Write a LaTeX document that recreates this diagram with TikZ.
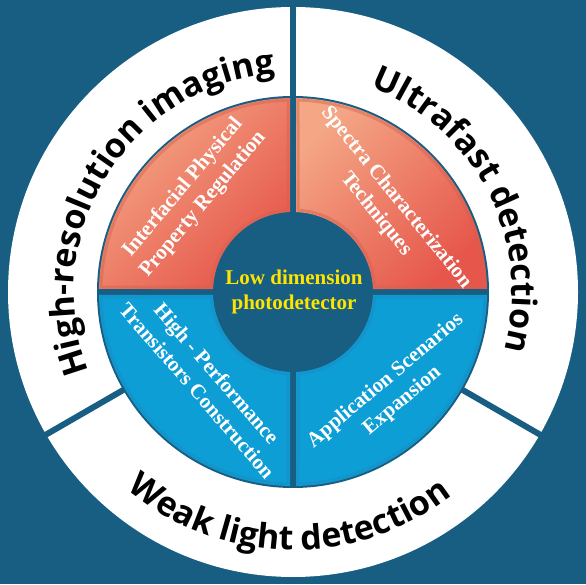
\documentclass[tikz,border=0pt]{standalone}
\usepackage{fontspec}
\setmainfont{Liberation Serif}
\newfontfamily\ringfont{Open Sans}
\usetikzlibrary{decorations.text,calc}
\definecolor{deepteal}{HTML}{175E82}
\definecolor{salmonlight}{HTML}{F4A685}
\definecolor{salmondark}{HTML}{E6564B}
\definecolor{redrim}{HTML}{D4604E}
\definecolor{skyblue}{HTML}{0E9ED6}
\definecolor{bluerim}{HTML}{1A88BE}
\definecolor{hubyellow}{HTML}{FFE400}

\begin{document}
\begin{tikzpicture}[
  x=1pt, y=1pt,
  quadlabel/.style={text=white, align=center, font=\bfseries\fontsize{21}{26}\selectfont},
  hublabel/.style={text=hubyellow, align=center, font=\bfseries\fontsize{21}{25}\selectfont},
  gapline/.style={draw=deepteal, line width=6pt},
  redquad/.style={top color=salmonlight, bottom color=salmondark, shading angle=45},
  bluequad/.style={fill=skyblue}
]
  \useasboundingbox (0,0) rectangle (586,584);
  \fill[deepteal] (0,0) rectangle (586,584);
  \coordinate (C) at (293,292);

  \begin{scope}[shift={(C)}]
    % outer white ring with three gaps
    \fill[white] (0,0) circle[radius=285];
    \foreach \g in {90,210,330}
      \draw[gapline] (\g:180) -- (\g:292);
    \fill[deepteal] (0,0) circle[radius=196];

    % four quadrants
    \foreach \a/\kind/\rim in {90/redquad/redrim, 0/redquad/redrim, 180/bluequad/bluerim, 270/bluequad/bluerim} {
      \pgfmathsetmacro\ao{asin(3/194)}
      \pgfmathsetmacro\ai{asin(3/80)}
      \path[\kind] (\a+\ao:194) arc[start angle=\a+\ao, end angle=\a+90-\ao, radius=194]
        -- (\a+90-\ai:80) arc[start angle=\a+90-\ai, end angle=\a+\ai, radius=80] -- cycle;
      \pgfmathsetmacro\bo{asin(5/192)}
      \pgfmathsetmacro\bi{asin(5/82)}
      \draw[\rim, line width=3pt, opacity=0.45] (\a+\bo:192) arc[start angle=\a+\bo, end angle=\a+90-\bo, radius=192]
        -- (\a+90-\bi:82) arc[start angle=\a+90-\bi, end angle=\a+\bi, radius=82] -- cycle;
    }

    % ring texts
    \path[decorate, decoration={text along path, text align=center,
      text={|\ringfont\bfseries\fontsize{34}{40}\selectfont|High-resolution imaging}}]
      (208:219) arc[start angle=208, end angle=88, radius=219];
    \path[decorate, decoration={text along path, text align=center,
      text={|\ringfont\bfseries\fontsize{34}{40}\selectfont|Ultrafast detection}}]
      (88:219) arc[start angle=88, end angle=-34, radius=219];
    \path[decorate, decoration={text along path, text align=center,
      text={|\ringfont\bfseries\fontsize{34}{40}\selectfont|Weak light detection}}]
      (209:258) arc[start angle=209, end angle=329, radius=258];
  \end{scope}

  % quadrant labels
  \node[quadlabel, rotate=50]  (iface) at (193,388) {Interfacial Physical\\Property Regulation};
  \node[quadlabel, rotate=-51] (spec)  at (386,378) {Spectra Characterization\\Techniques};
  \node[quadlabel, rotate=-49] (trans) at (207,202) {High - Performance\\Transistors Construction};
  \node[quadlabel, rotate=40]  (appl)  at (394,193) {Application Scenarios\\Expansion};

  % hub
  \node[hublabel] (hub) at (294,292) {Low dimension\\photodetector};
\end{tikzpicture}
\end{document}
